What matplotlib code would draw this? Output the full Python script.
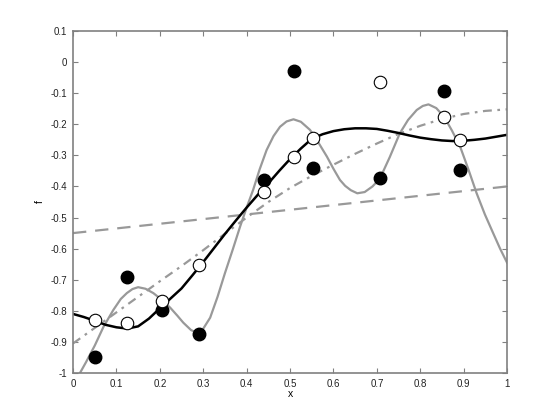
import numpy as np
import matplotlib
matplotlib.use('Agg')
import matplotlib.pyplot as plt

plt.rcParams['font.family'] = ['Liberation Sans', 'DejaVu Sans']

# sample locations and observed values
xs = [0.051, 0.124, 0.206, 0.290, 0.440, 0.509, 0.552, 0.707, 0.855, 0.892]
f_noisy = [-0.948, -0.691, -0.797, -0.874, -0.379, -0.029, -0.340, -0.373, -0.093, -0.347]
f_true = [-0.829, -0.839, -0.768, -0.652, -0.418, -0.305, -0.244, -0.064, -0.177, -0.250]

# black fit curve
x_fit = [0.0, 0.025, 0.05, 0.075, 0.1, 0.125, 0.15, 0.175, 0.2, 0.225, 0.25,
         0.275, 0.3, 0.325, 0.35, 0.375, 0.4, 0.425, 0.45, 0.475, 0.5, 0.525,
         0.55, 0.575, 0.6, 0.625, 0.65, 0.675, 0.7, 0.725, 0.75, 0.775, 0.8,
         0.825, 0.85, 0.875, 0.9, 0.925, 0.95, 0.975, 1.0]
y_fit = [-0.810, -0.820, -0.832, -0.845, -0.853, -0.857, -0.850, -0.825, -0.792,
         -0.760, -0.728, -0.686, -0.643, -0.598, -0.553, -0.510, -0.468, -0.428,
         -0.390, -0.350, -0.312, -0.278, -0.247, -0.232, -0.222, -0.216, -0.213,
         -0.213, -0.215, -0.221, -0.228, -0.236, -0.243, -0.248, -0.252, -0.254,
         -0.253, -0.250, -0.246, -0.240, -0.234]

# grey interpolating curve
x_int = [0.016, 0.03, 0.05, 0.07, 0.093, 0.11, 0.124, 0.137, 0.150, 0.167, 0.185,
         0.205, 0.224, 0.240, 0.254, 0.272, 0.285, 0.298, 0.316, 0.333, 0.350,
         0.368, 0.385, 0.400, 0.415, 0.430, 0.446, 0.462, 0.477, 0.492, 0.508,
         0.525, 0.546, 0.565, 0.585, 0.600, 0.615, 0.627, 0.640, 0.655, 0.672,
         0.690, 0.707, 0.730, 0.753, 0.772, 0.792, 0.806, 0.819, 0.837, 0.855,
         0.873, 0.892, 0.911, 0.930, 0.949, 0.968, 0.984, 1.0]
y_int = [-1.0, -0.965, -0.912, -0.852, -0.797, -0.762, -0.743, -0.730, -0.724,
         -0.729, -0.743, -0.765, -0.790, -0.815, -0.838, -0.862, -0.870, -0.862,
         -0.822, -0.755, -0.679, -0.603, -0.529, -0.468, -0.411, -0.345, -0.283,
         -0.238, -0.208, -0.191, -0.184, -0.192, -0.218, -0.258, -0.304, -0.343,
         -0.379, -0.398, -0.412, -0.422, -0.418, -0.400, -0.375, -0.305, -0.229,
         -0.186, -0.154, -0.141, -0.136, -0.148, -0.176, -0.220, -0.272, -0.345,
         -0.422, -0.490, -0.550, -0.600, -0.645]

# grey dashed (linear) fit
x_lin = [0.0, 0.5, 1.0]
y_lin = [-0.550, -0.475, -0.400]

# grey dash-dot fit
x_dd = [0.0, 0.05, 0.1, 0.15, 0.2, 0.25, 0.3, 0.35, 0.4, 0.45, 0.5, 0.55, 0.6,
        0.65, 0.7, 0.75, 0.8, 0.85, 0.9, 0.95, 1.0]
y_dd = [-0.905, -0.855, -0.805, -0.755, -0.705, -0.656, -0.605, -0.552, -0.500,
        -0.450, -0.405, -0.366, -0.330, -0.295, -0.262, -0.231, -0.205, -0.183,
        -0.167, -0.157, -0.152]

grey = '#999999'
fig = plt.figure(figsize=(5.6, 4.2), dpi=100)
ax = fig.add_axes([0.1304, 0.1119, 0.775, 0.8143])

ax.plot(x_lin, y_lin, color=grey, lw=1.6, linestyle=(0, (6, 4)))
ax.plot(x_dd, y_dd, color=grey, lw=1.6, linestyle=(0, (4, 2.5, 1.2, 2.5)))
ax.plot(x_int, y_int, color=grey, lw=1.6, solid_joinstyle='round')
ax.plot(x_fit, y_fit, color='black', lw=1.8, solid_joinstyle='round')
ax.plot(xs, f_noisy, 'o', color='black', ms=9, mec='black')
ax.plot(xs, f_true, 'o', mfc='white', mec='black', mew=0.8, ms=9)

ax.set_xlim(0, 1)
ax.set_ylim(-1, 0.1)
ax.set_xticks(np.arange(0, 1.01, 0.1))
ax.set_xticklabels(['0', '0.1', '0.2', '0.3', '0.4', '0.5', '0.6', '0.7', '0.8', '0.9', '1'])
yt = np.round(np.arange(-1, 0.11, 0.1), 1)
ax.set_yticks(yt)
ax.set_yticklabels(['-1', '-0.9', '-0.8', '-0.7', '-0.6', '-0.5', '-0.4', '-0.3',
                    '-0.2', '-0.1', '0', '0.1'])
ax.tick_params(direction='in', length=3.5, width=0.8, colors='#808080',
               labelcolor='#222222', labelsize=7, top=True, right=True, pad=4)
for s in ax.spines.values():
    s.set_color('#808080')
    s.set_linewidth(1.2)
ax.set_xlabel('x', fontsize=7.5, labelpad=0)
ax.set_ylabel('f', fontsize=7.5, labelpad=4)

fig.savefig('out.png', dpi=100)
